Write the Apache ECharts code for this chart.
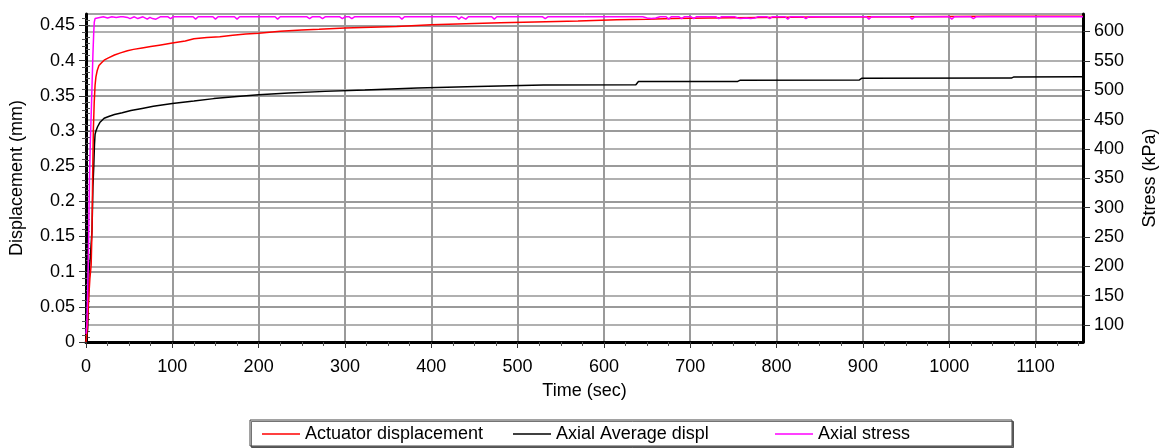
<!DOCTYPE html>
<html>
<head>
<meta charset="utf-8">
<script src="https://cdn.jsdelivr.net/npm/echarts@6/dist/echarts.min.js"></script>
<style>
html,body{margin:0;padding:0;background:#fff;}
#chart{width:1167px;height:448px;}
</style>
</head>
<body>
<div id="chart"></div>
<script>
// ---- data ----
var seriesNames = ['Actuator displacement', 'Axial Average displ', 'Axial stress'];

var actuatorTime = [0,1.5,3,4.5,6,7,7.7,8.5,9.5,10.5,11.5,13,15,18,21,26,33,40,48,55,65,75,85,100,115,125,140,155,170,185,200,225,250,270,300,330,360,400,440,480,520,570,615,650,680,720,780,850,950,1050,1155];
var actuatorDispl = [0,0.02,0.06,0.09,0.11,0.16,0.235,0.3,0.34,0.365,0.377,0.386,0.393,0.397,0.4006,0.404,0.408,0.411,0.414,0.416,0.418,0.42,0.422,0.425,0.428,0.431,0.433,0.434,0.436,0.438,0.439,0.4418,0.4435,0.4446,0.4465,0.4475,0.4485,0.451,0.4525,0.454,0.455,0.4564,0.458,0.4588,0.4598,0.4605,0.4615,0.462,0.4625,0.463,0.4632];

var averageTime = [0,1,2,2.8,3.5,5,7,8,9,9.8,10.5,11.5,13.4,16,21,27,33,42,52,65,78,100,125,148,175,200,235,277,323,384,453,530,637,640,755,758,896,899,1072,1075,1155];
var averageDispl = [0,0.005,0.02,0.06,0.1,0.12,0.16,0.22,0.25,0.28,0.295,0.3,0.306,0.312,0.318,0.321,0.3235,0.326,0.329,0.332,0.335,0.339,0.3426,0.346,0.349,0.3516,0.354,0.3563,0.3582,0.361,0.3634,0.3653,0.3658,0.3703,0.3705,0.3722,0.3725,0.375,0.3752,0.3769,0.3772];

var stressTime = [0,1,2,3,4,5,6.5,8,9,9.6,10.5,12.6,
  16,20,25,30,35,40,43,45,48,51,53,56,
  58,60,62,66,68,71,74,77,79,81,83,86,
  95,98,101,110,124,127,130,147,150,153,172,175,178,
  200,219,222,225,256,259,262,271,274,277,294,297,300,305,308,311,
  340,363,366,369,400,429,432,435,437,440,443,470,473,476,
  529,532,535,600,645,650,655,660,665,672,675,678,687,690,693,701,704,707,
  730,733,736,752,755,758,765,770,775,778,789,792,795,810,813,816,831,834,837,
  904,907,910,954,957,960,1000,1003,1006,1025,1028,1031,1155];
var axialStress = [85,100,160,240,346,410,483,560,600,616,622,625,
  624,625,623,625,624,625,625,622,624,622,624,625,
  625,622,625,625,623,621,624,622,623,621,624,625,
  625,622,625,625,625,621,625,625,621,625,625,621,625,
  625,625,621,625,625,622,625,625,622,625,625,622,625,625,622,625,
  625,625,621,625,625,625,621,625,625,621,625,625,621,625,
  625,622,625,625,625,623,622,623,625,625,621,625,625,622,625,625,622,625,
  625,622,625,625,623,622,623,622,623,625,625,622,625,625,621,625,625,622,625,
  625,621,625,625,621,625,625,621,625,625,622,625,625];

var timeTicks = [0,100,200,300,400,500,600,700,800,900,1000,1100];
var displTicks = [0,0.05,0.1,0.15,0.2,0.25,0.3,0.35,0.4,0.45];
var stressTicks = [100,150,200,250,300,350,400,450,500,550,600];

// ---- layout / style ----
var X_MIN = 0, X_MAX = 1155;
var L_MIN = 0, L_MAX = 0.4663;
var R_MIN = 71.1, R_MAX = 629.8;

function zip(a, b){ var r=[]; for (var i=0;i<a.length;i++) r.push([a[i], b[i]]); return r; }
function minorBetween(major, step, from, to){
  var out=[]; var n=Math.round((to-from)/step);
  for (var i=0;i<=n;i++){ var v=+(from+i*step).toFixed(4);
    var isMajor=major.some(function(m){return Math.abs(m-v)<step/10;});
    if(!isMajor) out.push(v);} return out;
}
var timeMinor = minorBetween(timeTicks, 25, 0, 1150);
var displMinor = minorBetween(displTicks, 0.01, 0, 0.46);
var stressMinor = minorBetween(stressTicks, 10, 80, 620);

var FONT = 'Liberation Sans, Arial, sans-serif';
var FS = 18;
var gridColor = '#9a9a9a';
var colors = ['#ff0000', '#000000', '#ff00ff'];
var legendLefts = [262, 513, 775];

function plain(v){ return String(v); }

var legends = seriesNames.map(function(n, i){
  return {
    data:[n], left:legendLefts[i], top:425, padding:0,
    itemWidth:38, itemHeight:1.5, icon:'rect', selectedMode:false,
    textStyle:{color:'#000', fontSize:FS, fontFamily:FONT}
  };
});

var chart = echarts.init(document.getElementById('chart'), null, {renderer:'canvas'});
chart.setOption({
  animation:false,
  backgroundColor:'#fff',
  grid:{left:85, top:14, width:1004, height:328, show:true, borderColor:'#444', borderWidth:1, backgroundColor:'transparent'},
  graphic:[{
    type:'rect', z:1, shape:{x:250, y:420, width:762, height:26},
    style:{fill:'#fff', stroke:'#444', lineWidth:1, shadowColor:'rgba(0,0,0,0.55)', shadowOffsetX:1.5, shadowOffsetY:1.5, shadowBlur:0}
  }],
  legend:legends,
  xAxis:[{
    type:'value', min:X_MIN, max:X_MAX,
    name:'Time (sec)', nameLocation:'middle', nameGap:40,
    nameTextStyle:{color:'#000', fontSize:FS, fontFamily:FONT},
    axisLine:{show:true, onZero:false, lineStyle:{color:'#000', width:3}},
    axisTick:{show:true, inside:false, length:6, customValues:timeTicks, lineStyle:{color:'#333', width:1}},
    axisLabel:{customValues:timeTicks, formatter:plain, margin:16, color:'#000', fontSize:FS, fontFamily:FONT},
    splitLine:{show:true, lineStyle:{color:gridColor, width:2}}
  },{
    type:'value', min:X_MIN, max:X_MAX, position:'bottom',
    axisLine:{show:false}, axisLabel:{show:false}, splitLine:{show:false},
    axisTick:{show:true, length:4, customValues:timeMinor, lineStyle:{color:'#555', width:1}}
  }],
  yAxis:[{
    type:'value', min:L_MIN, max:L_MAX, position:'left',
    name:'Displacement (mm)', nameLocation:'middle', nameRotate:90, nameGap:60,
    nameTextStyle:{color:'#000', fontSize:FS, fontFamily:FONT},
    axisLine:{show:true, onZero:false, lineStyle:{color:'#000', width:3}},
    axisTick:{show:true, length:7, customValues:displTicks, lineStyle:{color:'#333', width:1}},
    axisLabel:{customValues:displTicks, formatter:plain, margin:11, color:'#000', fontSize:FS, fontFamily:FONT},
    splitLine:{show:true, lineStyle:{color:gridColor, width:2}}
  },{
    type:'value', min:R_MIN, max:R_MAX, position:'right',
    name:'Stress (kPa)', nameLocation:'middle', nameRotate:90, nameGap:58,
    nameTextStyle:{color:'#000', fontSize:FS, fontFamily:FONT},
    axisLine:{show:true, onZero:false, lineStyle:{color:'#000', width:3}},
    axisTick:{show:true, length:7, customValues:stressTicks, lineStyle:{color:'#333', width:1}},
    axisLabel:{customValues:stressTicks, formatter:plain, margin:11, color:'#000', fontSize:FS, fontFamily:FONT},
    splitLine:{show:true, lineStyle:{color:'#b0b0b0', width:2}}
  },{
    type:'value', min:L_MIN, max:L_MAX, position:'left',
    axisLine:{show:false}, axisLabel:{show:false}, splitLine:{show:false},
    axisTick:{show:true, length:4, customValues:displMinor, lineStyle:{color:'#555', width:1}}
  },{
    type:'value', min:R_MIN, max:R_MAX, position:'right',
    axisLine:{show:false}, axisLabel:{show:false}, splitLine:{show:false},
    axisTick:{show:true, length:4, customValues:stressMinor, lineStyle:{color:'#555', width:1}}
  }],
  series:[{
    name:seriesNames[0], type:'line', xAxisIndex:0, yAxisIndex:0,
    data:zip(actuatorTime, actuatorDispl), symbol:'none',
    lineStyle:{color:colors[0], width:1.5}, itemStyle:{color:colors[0]}, z:3
  },{
    name:seriesNames[1], type:'line', xAxisIndex:0, yAxisIndex:0,
    data:zip(averageTime, averageDispl), symbol:'none',
    lineStyle:{color:colors[1], width:1.5}, itemStyle:{color:colors[1]}, z:2
  },{
    name:seriesNames[2], type:'line', xAxisIndex:0, yAxisIndex:1,
    data:zip(stressTime, axialStress), symbol:'none',
    lineStyle:{color:colors[2], width:1.5}, itemStyle:{color:colors[2]}, z:4
  }]
});
</script>
</body>
</html>
